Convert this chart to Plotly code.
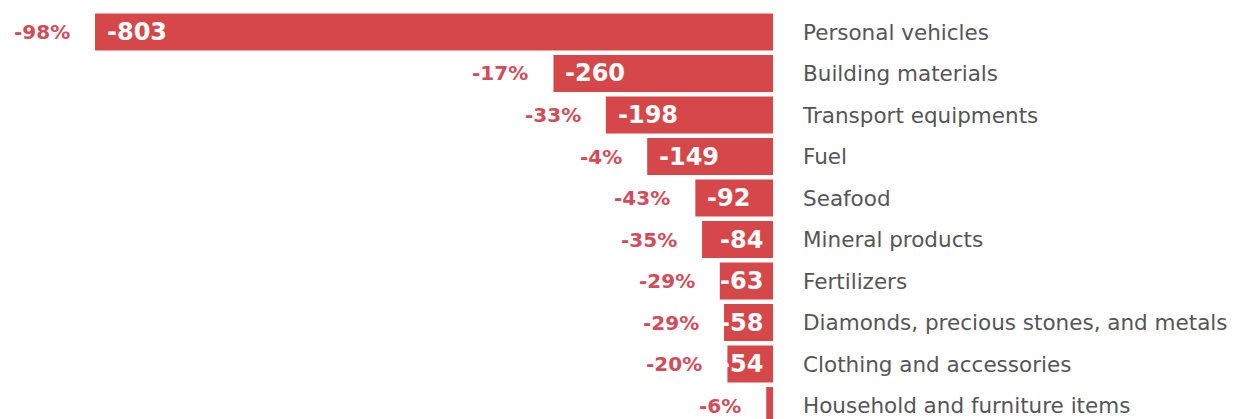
import plotly.graph_objects as go

categories = ["Personal vehicles", "Building materials", "Transport equipments", "Fuel",
              "Seafood", "Mineral products", "Fertilizers",
              "Diamonds, precious stones, and metals", "Clothing and accessories",
              "Household and furniture items"]
values = [-803, -260, -198, -149, -92, -84, -63, -58, -54, -8]
pct_labels = ["-98%", "-17%", "-33%", "-4%", "-43%", "-35%", "-29%", "-29%", "-20%", "-6%"]

BAR = "#d6474a"
PCT = "#d24c5a"
LBL = "#555555"
NUMFONT = "DejaVu Sans"
LBLFONT = "DejaVu Sans"

fig = go.Figure()
fig.add_trace(go.Bar(
    x=values, y=categories, orientation="h",
    marker=dict(color=BAR, line=dict(width=0)),
    hoverinfo="skip", showlegend=False,
))

px_per_unit = 765 / 906.0
annotations = []
for c, v, p in zip(categories, values, pct_labels):
    width_px = abs(v) * px_per_unit
    if width_px > 75:
        annotations.append(dict(x=v, y=c, xref="x", yref="y", text=str(v),
                                xanchor="left", xshift=10, showarrow=False,
                                font=dict(family=NUMFONT, size=24, color="white", weight="bold")))
    elif width_px > 20:
        annotations.append(dict(x=0, y=c, xref="x", yref="y", text=str(v),
                                xanchor="right", xshift=-8, showarrow=False,
                                font=dict(family=NUMFONT, size=24, color="white", weight="bold")))
    annotations.append(dict(x=v, y=c, xref="x", yref="y", text=p,
                            xanchor="right", xshift=-23, showarrow=False,
                            font=dict(family=NUMFONT, size=20, color=PCT, weight="bold")))

fig.update_layout(
    template="none",
    width=1229, height=411,
    margin=dict(l=0, r=464, t=0, b=0),
    paper_bgcolor="white", plot_bgcolor="white",
    bargap=0.11,
    xaxis=dict(range=[-906, 0], showgrid=False, zeroline=False, showline=False,
               showticklabels=False, ticks="", fixedrange=True),
    yaxis=dict(categoryorder="array", categoryarray=categories,
               range=[9.325, -0.578], side="right", showgrid=False, zeroline=False,
               showline=False, ticks="", ticklabelstandoff=29, automargin=False,
               tickfont=dict(family=LBLFONT, size=21.5, color=LBL)),
    annotations=annotations,
)

fig.write_html("out.html")
